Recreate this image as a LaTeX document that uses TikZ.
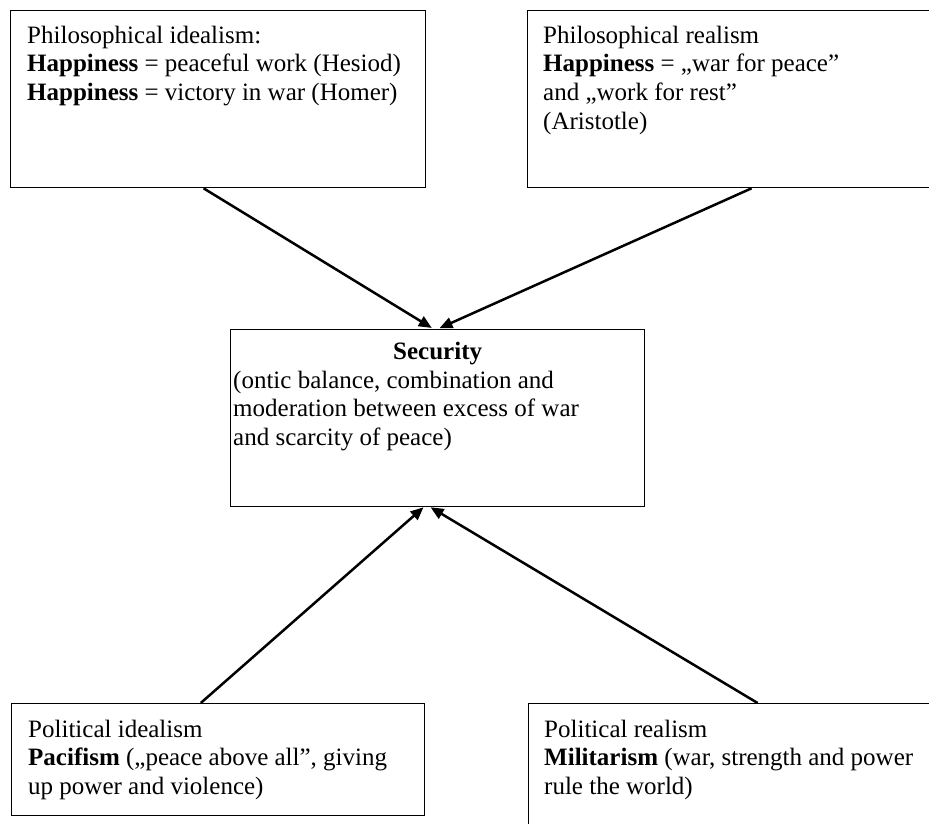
\documentclass[tikz,border=0pt]{standalone}
\usepackage{fontspec}
\setmainfont{Liberation Serif}
\usetikzlibrary{arrows.meta, calc, positioning}

\begin{document}
\begin{tikzpicture}[x=1pt, y=-1pt,
	every node/.style={font=\fontsize{25pt}{28.7pt}\selectfont},
	box/.style={draw, line width=1.3pt, rectangle, inner sep=0pt, anchor=north west},
	txt/.style={anchor=base west, inner sep=0pt, align=left},
	link/.style={line width=2.5pt, -{Triangle[length=13pt,width=11pt]}}]
	\useasboundingbox (0,0) rectangle (929,823);
	\clip (0,0) rectangle (929,823);
	% boxes
	\node[box, minimum width=415pt, minimum height=177pt] (philid) at (10,10) {};
	\node[box, minimum width=420pt, minimum height=177pt] (philrl) at (527,10) {};
	\node[box, minimum width=414pt, minimum height=177pt] (secur) at (230,329) {};
	\node[box, minimum width=413pt, minimum height=112pt] (polid) at (11,703) {};
	\node[box, minimum width=420pt, minimum height=140pt] (polrl) at (528,703) {};
	% texts (anchored on the baseline of their last line)
	\node[txt] (philidtxt) at ($(philid.north west)+(17,90.4)$) {Philosophical idealism:\\
		\textbf{Happiness} = peaceful work (Hesiod)\\
		\textbf{Happiness} = victory in war (Homer)};
	\node[txt] (philrltxt) at ($(philrl.north west)+(16,119.1)$) {Philosophical realism\\
		\textbf{Happiness} = „war for peace”\\
		and „work for rest”\\
		(Aristotle)};
	\node[anchor=base, inner sep=0pt] (securhead) at ($(secur.north)+(0,30)$) {\textbf{Security}};
	\node[txt] (securtxt) at ($(secur.north west)+(3,116.4)$) {(ontic balance, combination and\\
		moderation between excess of war\\
		and scarcity of peace)};
	\node[txt] (polidtxt) at ($(polid.north west)+(17,91.4)$) {Political idealism\\
		\textbf{Pacifism} („peace above all”, giving\\
		up power and violence)};
	\node[txt] (polrltxt) at ($(polrl.north west)+(16,91.4)$) {Political realism\\
		\textbf{Militarism} (war, strength and power\\
		rule the world)};
	% arrows
	\draw[link, shorten >=2pt] ($(philid.south west)!0.465!(philid.south east)$) -- ($(secur.north west)!0.49!(secur.north east)$);
	\draw[link, shorten >=2pt] ($(philrl.south west)!0.533!(philrl.south east)$) -- ($(secur.north west)!0.5!(secur.north east)$);
	\draw[link] ($(polid.north west)!0.458!(polid.north east)$) -- ($(secur.south west)!0.466!(secur.south east)$);
	\draw[link] ($(polrl.north west)!0.545!(polrl.north east)$) -- ($(secur.south west)!0.483!(secur.south east)$);
\end{tikzpicture}
\end{document}
